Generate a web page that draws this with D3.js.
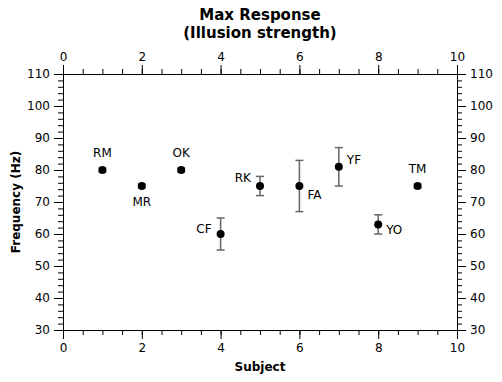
<!DOCTYPE html>
<html>
<head>
<meta charset="utf-8">
<script src="https://cdn.jsdelivr.net/npm/d3@7"></script>
<style>
  body { margin: 0; background: #fff; }
  svg { font-family: "DejaVu Sans", sans-serif; }
</style>
</head>
<body>
<svg width="502" height="382"></svg>
<script>
// subjects along x, max response (Hz) with spread
const subjects = ["RM", "MR", "OK", "CF", "RK", "FA", "YF", "YO", "TM"];
const subjectIndex = [1, 2, 3, 4, 5, 6, 7, 8, 9];
const frequency = [80, 75, 80, 60, 75, 75, 81, 63, 75];
const errors = [0.6, 0.6, 0.6, 5, 3, 8, 6, 3, 0.6];
// where each name sits relative to its point
const labelSide = ["top", "bottom", "top", "left", "topleft", "bottomright", "topright", "right", "top"];

const xTicks = [0, 2, 4, 6, 8, 10];
const yTicks = [30, 40, 50, 60, 70, 80, 90, 100, 110];

const margin = {top: 74, right: 45, bottom: 52, left: 63};
const width = 502, height = 382;
const svg = d3.select("svg");

const x = d3.scaleLinear().domain([0, 10]).range([margin.left, width - margin.right]);
const y = d3.scaleLinear().domain([30, 110]).range([height - margin.bottom, margin.top]);

// minor ticks, then the major ones on top
function axisPair(axisFn, scale, major, minorStep, pos, noLabels) {
  const [d0, d1] = scale.domain();
  const minor = d3.range(d0, d1 + 1e-9, minorStep);
  svg.append("g").attr("transform", pos)
    .call(axisFn(scale).tickValues(minor).tickSize(5).tickFormat(""))
    .call(g => g.select(".domain").remove());
  const g = svg.append("g").attr("transform", pos)
    .call(axisFn(scale).tickValues(major).tickSize(9).tickPadding(4).tickFormat(d3.format("d")));
  g.selectAll("text").attr("font-size", 12).attr("fill", "#000").attr("font-family", "DejaVu Sans");
  g.selectAll("line, path").attr("stroke", "#000");
  return g;
}
svg.selectAll("g").remove();
axisPair(d3.axisBottom, x, xTicks, 0.5, `translate(0,${y(30)})`);
axisPair(d3.axisTop, x, xTicks, 0.5, `translate(0,${y(110)})`);
axisPair(d3.axisLeft, y, yTicks, 2, `translate(${x(0)},0)`);
axisPair(d3.axisRight, y, yTicks, 2, `translate(${x(10)},0)`);
svg.selectAll("g.tick line").attr("stroke", "#000");

// error bars
const pts = subjects.map((s, i) => ({name: s, xi: subjectIndex[i], v: frequency[i], e: errors[i], side: labelSide[i]}));
const eb = svg.append("g").attr("stroke", "#666").attr("stroke-width", 1.5);
pts.forEach(d => {
  eb.append("line").attr("x1", x(d.xi)).attr("x2", x(d.xi)).attr("y1", y(d.v - d.e)).attr("y2", y(d.v + d.e));
  [d.v - d.e, d.v + d.e].forEach(c => {
    eb.append("line").attr("x1", x(d.xi) - 4).attr("x2", x(d.xi) + 4).attr("y1", y(c)).attr("y2", y(c));
  });
});

svg.append("g").selectAll("circle").data(pts).join("circle")
  .attr("cx", d => x(d.xi)).attr("cy", d => y(d.v)).attr("r", 4).attr("fill", "#000");

const off = {
  top: [0, -17, "middle"], bottom: [0, 16, "middle"], left: [-9, -5, "end"],
  topleft: [-9, -8, "end"], bottomright: [8, 9, "start"], topright: [8, -7, "start"], right: [8, 5, "start"]
};
svg.append("g").selectAll("text").data(pts).join("text")
  .attr("x", d => x(d.xi) + off[d.side][0])
  .attr("y", d => y(d.v) + off[d.side][1])
  .attr("dy", "0.35em")
  .attr("text-anchor", d => off[d.side][2])
  .attr("font-size", 12)
  .text(d => d.name);

// titles
svg.append("text").attr("x", (margin.left + width - margin.right) / 2).attr("y", 20)
  .attr("text-anchor", "middle").attr("font-size", 15).attr("font-weight", "bold").text("Max Response");
svg.append("text").attr("x", (margin.left + width - margin.right) / 2).attr("y", 38)
  .attr("text-anchor", "middle").attr("font-size", 15).attr("font-weight", "bold").text("(Illusion strength)");
svg.append("text").attr("x", (margin.left + width - margin.right) / 2).attr("y", 371)
  .attr("text-anchor", "middle").attr("font-size", 12).attr("font-weight", "bold").text("Subject");
svg.append("text").attr("transform", `translate(20,${(y(30) + y(110)) / 2}) rotate(-90)`)
  .attr("text-anchor", "middle").attr("font-size", 12).attr("font-weight", "bold").text("Frequency (Hz)");
</script>
</body>
</html>
